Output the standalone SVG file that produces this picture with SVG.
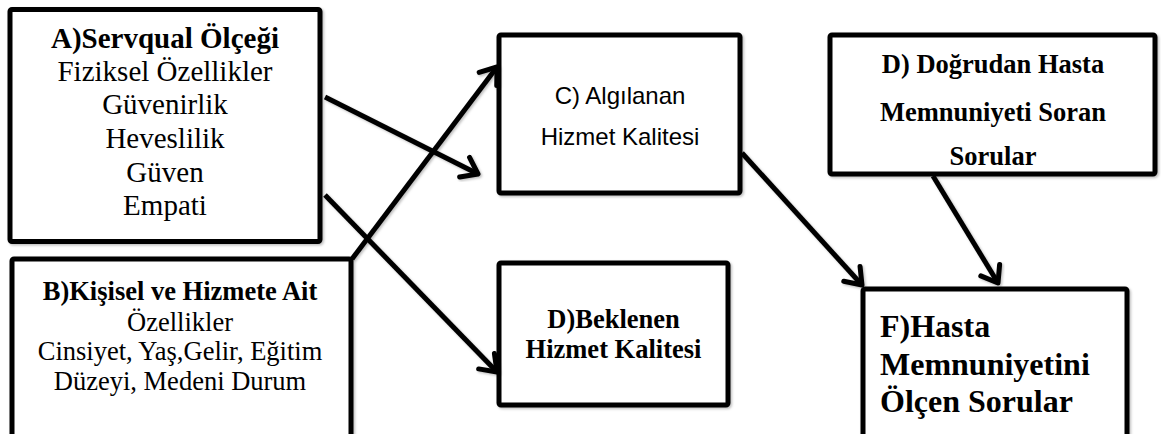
<svg xmlns="http://www.w3.org/2000/svg" width="1161" height="434" viewBox="0 0 1161 434">
<style>
.box{fill:#fff;stroke:#000;stroke-width:5;filter:url(#sh)}
.serif{font-family:"Liberation Serif","Times New Roman",serif;fill:#000}
.sans{font-family:"Liberation Sans",Arial,sans-serif;fill:#000}
.b{font-weight:bold}
.conn{stroke:#000;stroke-width:5;fill:none;marker-end:url(#ah);filter:url(#sh)}
</style>
<defs>
<filter id="sh" x="-10%" y="-10%" width="120%" height="120%">
<feDropShadow dx="1.5" dy="1.5" stdDeviation="1.2" flood-color="#000" flood-opacity="0.25"/>
</filter>
<marker id="ah" markerUnits="userSpaceOnUse" markerWidth="28" markerHeight="28" viewBox="0 0 28 28" refX="22" refY="14" orient="auto">
<path d="M7,3 L22,14 L7,25" fill="none" stroke="#000" stroke-width="5" stroke-linecap="round" stroke-linejoin="round"/>
</marker>
</defs>
<rect width="1161" height="434" fill="#fff"/>

<g id="nodeA">
<rect class="box" x="10" y="9.5" width="310" height="232" rx="2"/>
<g class="serif" font-size="29" text-anchor="middle">
<text x="165" y="48" class="b">A)Servqual Ölçeği</text>
<text x="165" y="81">Fiziksel Özellikler</text>
<text x="165" y="114">Güvenirlik</text>
<text x="165" y="148">Heveslilik</text>
<text x="165" y="182">Güven</text>
<text x="165" y="215">Empati</text>
</g>
</g>

<g id="nodeB">
<rect class="box" x="12" y="259" width="339" height="200" rx="2"/>
<g class="serif" font-size="26.5" text-anchor="middle">
<text x="180" y="300" class="b">B)Kişisel ve Hizmete Ait</text>
<text x="180" y="331">Özellikler</text>
<text x="180" y="360">Cinsiyet, Yaş,Gelir, Eğitim</text>
<text x="180" y="390">Düzeyi, Medeni Durum</text>
</g>
</g>

<g id="nodeC">
<rect class="box" x="499" y="35" width="241" height="158" rx="2"/>
<g class="sans" font-size="24" text-anchor="middle">
<text x="620" y="104">C) Algılanan</text>
<text x="620" y="145">Hizmet Kalitesi</text>
</g>
</g>

<g id="nodeDB">
<rect class="box" x="499" y="263" width="229" height="142" rx="2"/>
<g class="serif b" font-size="26.5" text-anchor="middle">
<text x="613.5" y="328">D)Beklenen</text>
<text x="613.5" y="358">Hizmet Kalitesi</text>
</g>
</g>

<g id="nodeDD">
<rect class="box" x="830" y="35" width="325" height="139" rx="2"/>
<g class="serif b" font-size="26.5" text-anchor="middle">
<text x="993" y="73">D) Doğrudan Hasta</text>
<text x="993" y="121">Memnuniyeti Soran</text>
<text x="993" y="165">Sorular</text>
</g>
</g>

<g id="nodeF">
<rect class="box" x="863" y="289" width="264" height="170" rx="2"/>
<g class="serif b" font-size="32">
<text x="880" y="337">F)Hasta</text>
<text x="880" y="375">Memnuniyetini</text>
<text x="880" y="412">Ölçen Sorular</text>
</g>
</g>

<g id="connectors">
<line class="conn" x1="325" y1="97" x2="478" y2="174"/>
<line class="conn" x1="325" y1="195" x2="497" y2="372"/>
<line class="conn" x1="352" y1="259" x2="497" y2="67"/>
<line class="conn" x1="742" y1="153" x2="862" y2="285"/>
<line class="conn" x1="933" y1="176" x2="998" y2="283"/>
<line class="conn" x1="730" y1="342" x2="860" y2="342"/>
</g>
</svg>
